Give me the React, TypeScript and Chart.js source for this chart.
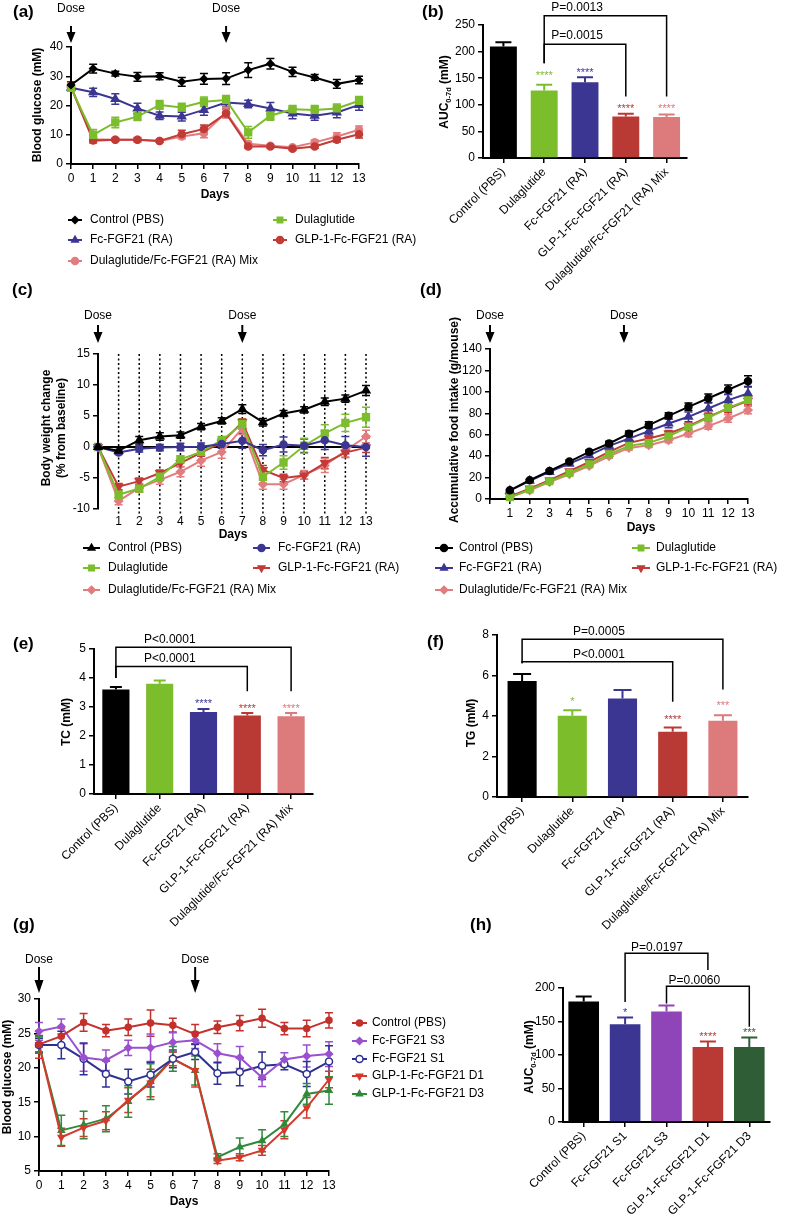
import React, { useEffect, useRef } from 'react';
import { Chart, registerables } from 'chart.js';
import { drawPoint } from 'chart.js/helpers';

Chart.register(...registerables);

const FONT = "'Liberation Sans', Arial, Helvetica, sans-serif";
const W = 785;
const H = 1217;
const WY = 35;
const HX_BAR = 170;

// ---------------- DATA ----------------
const daysAll = [0, 1, 2, 3, 4, 5, 6, 7, 8, 9, 10, 11, 12, 13];
const days1to13 = [1, 2, 3, 4, 5, 6, 7, 8, 9, 10, 11, 12, 13];
const doseDays = [0, 7];
const doseDaysD = [0, 6.75];

// (a) blood glucose
const aControl = [27.0, 32.6, 30.9, 29.8, 30.0, 28.1, 29.1, 29.2, 32.1, 34.3, 31.5, 29.6, 27.4, 28.7];
const aControlErr = [1.0, 1.5, 0.8, 1.5, 1.2, 1.5, 1.8, 2.0, 2.5, 1.8, 1.6, 1.0, 1.5, 1.3];
const aDula = [26.0, 10.0, 14.2, 16.2, 20.2, 19.3, 21.3, 21.9, 10.8, 16.5, 18.7, 18.5, 19.0, 21.6];
const aDulaErr = [1.0, 1.8, 1.8, 1.3, 1.5, 1.5, 1.6, 1.5, 2.0, 1.5, 1.3, 1.5, 1.5, 1.5];
const aFc = [26.1, 24.5, 22.2, 19.0, 16.5, 16.2, 18.5, 21.0, 20.5, 19.0, 17.3, 16.5, 17.6, 20.2];
const aFcErr = [1.0, 1.4, 1.8, 1.8, 1.3, 1.5, 1.8, 1.5, 1.3, 2.0, 1.8, 1.5, 1.8, 1.8];
const aGlp = [26.3, 8.0, 8.3, 8.3, 7.9, 10.2, 12.0, 17.3, 6.0, 6.0, 5.2, 6.0, 8.3, 10.2];
const aGlpErr = [1.0, 0.8, 0.5, 0.6, 0.5, 1.3, 1.3, 1.5, 0.6, 0.5, 0.5, 0.6, 0.8, 1.3];
const aMix = [26.5, 8.5, 8.3, 8.3, 7.9, 9.4, 10.5, 17.6, 6.9, 6.2, 5.7, 7.4, 9.4, 11.7];
const aMixErr = [1.2, 0.8, 0.5, 0.8, 0.5, 0.8, 1.5, 1.8, 0.8, 0.5, 0.4, 0.8, 1.3, 1.3];

// (b) AUC 0-7d
const groups5 = ['Control (PBS)', 'Dulaglutide', 'Fc-FGF21 (RA)', 'GLP-1-Fc-FGF21 (RA)', 'Dulaglutide/Fc-FGF21 (RA) Mix'];
const bAuc = [209.5, 127, 142.5, 78, 77];
const bAucErr = [8, 10.5, 9.5, 5, 5];
const bStars = ['', '****', '****', '****', '****'];
const bStarY = [0, 160.5, 165.5, 97, 97];
const bBrackets = [
  [1, 3, 178, 214, 115.6, 'P=0.0015'],
  [1, 4, 178, 267.5, 115.6, 'P=0.0013'],
];

// (c) body weight change
const cControl = [0, -0.6, 1.1, 1.7, 1.9, 3.3, 4.2, 6.1, 4.0, 5.4, 6.0, 7.3, 7.8, 9.1];
const cControlErr = [0, 0.5, 0.6, 0.6, 0.5, 0.5, 0.5, 0.7, 0.6, 0.5, 0.5, 0.6, 0.6, 0.8];
const cFc = [0, -0.9, -0.3, -0.1, 0, 0.05, 0.5, 1.0, -0.5, 0.4, 0.2, 1.1, 0.3, 0];
const cFcErr = [0, 0.3, 0.5, 0.5, 0.6, 0.6, 0.7, 1.2, 0.9, 1.2, 1.1, 1.5, 1.4, 1.5];
const cDula = [0, -7.7, -6.7, -4.8, -2.0, -0.8, 1.1, 3.7, -4.8, -2.5, 0.2, 2.2, 3.9, 4.8];
const cDulaErr = [0, 0.6, 0.5, 0.5, 0.6, 0.6, 0.6, 0.8, 1.0, 1.1, 1.2, 1.4, 1.4, 1.6];
const cGlp = [0, -6.4, -5.5, -4.2, -2.6, -0.9, 0.7, 4.0, -3.7, -5.0, -4.6, -2.6, -0.9, -0.1];
const cGlpErr = [0, 0.5, 0.5, 0.5, 0.6, 0.6, 0.6, 0.5, 0.7, 0.6, 0.6, 0.9, 0.8, 0.8];
const cMix = [0, -8.7, -6.6, -5.3, -4.0, -2.2, -0.8, 3.0, -6.0, -6.0, -4.5, -3.0, -0.6, 1.7];
const cMixErr = [0, 0.6, 0.7, 0.7, 0.8, 0.9, 1.0, 1.0, 0.8, 0.8, 0.7, 1.1, 1.0, 1.0];

// (d) accumulative food intake
const dControl = [8.1, 17.5, 26.2, 34.9, 44.0, 51.8, 61.0, 69.0, 77.6, 86.0, 94.0, 102.0, 110.0];
const dControlErr = [0.8, 1.0, 1.2, 1.5, 1.8, 2.0, 2.5, 3.0, 3.0, 3.5, 4.0, 4.5, 5.0];
const dFc = [7.8, 17.0, 25.3, 33.0, 40.8, 49.6, 56.4, 63.3, 70.5, 76.7, 84.5, 92.3, 98.5];
const dFcErr = [0.8, 1.0, 1.2, 1.5, 2.0, 2.0, 3.0, 3.5, 4.0, 4.5, 5.0, 5.5, 6.0];
const dDula = [1.5, 8.7, 16.5, 24.3, 32.4, 41.8, 49.6, 52.4, 58.6, 67.3, 75.8, 85.0, 92.3];
const dDulaErr = [0.5, 0.8, 1.0, 1.2, 1.5, 1.8, 2.0, 2.2, 2.5, 3.0, 3.0, 3.5, 3.5];
const dGlp = [2.5, 9.7, 17.5, 25.9, 34.6, 44.0, 52.4, 56.4, 61.1, 68.0, 76.7, 84.5, 91.7];
const dGlpErr = [0.5, 0.8, 1.0, 1.2, 1.5, 1.8, 2.0, 2.5, 2.8, 3.0, 3.5, 4.0, 4.0];
const dMix = [1.9, 8.1, 15.9, 23.1, 30.9, 39.9, 47.7, 50.2, 54.9, 61.1, 68.0, 75.1, 83.0];
const dMixErr = [0.5, 0.8, 1.0, 1.2, 1.5, 1.8, 2.0, 2.2, 2.5, 3.0, 3.0, 3.5, 3.5];

// (e) TC
const eTc = [3.60, 3.80, 2.83, 2.71, 2.68];
const eTcErr = [0.09, 0.11, 0.10, 0.08, 0.11];
const eStars = ['', '', '****', '****', '****'];
const eStarY = [0, 0, 3.2, 3.05, 3.02];
const eBrackets = [
  [0, 3, 4.0, 4.4, 3.54, 'P<0.0001'],
  [0, 4, 4.0, 5.06, 3.54, 'P<0.0001'],
];

// (f) TG
const fTg = [5.73, 4.01, 4.87, 3.22, 3.76];
const fTgErr = [0.34, 0.28, 0.41, 0.21, 0.28];
const fStars = ['', '*', '', '****', '***'];
const fStarY = [0, 4.82, 0, 3.96, 4.62];
const fBrackets = [
  [0, 3, 6.6, 6.68, 4.7, 'P<0.0001'],
  [0, 4, 6.6, 7.79, 5.31, 'P=0.0005'],
];

// (g) blood glucose, dose study
const gControl = [23.4, 24.6, 26.6, 25.4, 25.9, 26.5, 26.2, 24.9, 25.9, 26.5, 27.2, 25.7, 25.7, 26.9];
const gControlErr = [1.3, 1.2, 1.3, 0.9, 1.2, 1.9, 1.0, 1.4, 0.9, 1.1, 1.3, 0.9, 1.2, 1.1];
const gS3 = [25.3, 26.0, 21.5, 21.1, 22.9, 22.9, 23.7, 24.0, 22.1, 21.5, 18.6, 21.2, 21.7, 22.0];
const gS3Err = [1.3, 1.1, 2.0, 1.5, 1.1, 2.0, 1.4, 1.2, 1.4, 1.6, 1.3, 1.0, 1.6, 1.8];
const gS1 = [23.3, 23.3, 21.3, 19.1, 18.0, 19.0, 21.3, 22.3, 19.2, 19.4, 20.3, 20.5, 19.1, 20.9];
const gS1Err = [1.0, 2.0, 2.3, 1.9, 1.8, 1.8, 1.3, 1.1, 1.6, 2.0, 2.0, 0.8, 1.8, 2.3];
const gD1 = [23.4, 9.9, 11.3, 12.3, 15.3, 17.8, 21.3, 19.6, 6.5, 7.0, 8.0, 11.0, 14.2, 18.3];
const gD1Err = [2.0, 1.3, 1.3, 1.3, 1.8, 2.0, 1.0, 2.4, 0.4, 0.5, 0.7, 1.3, 1.5, 1.2];
const gD3 = [23.3, 10.9, 11.7, 12.6, 15.1, 18.0, 21.3, 19.6, 7.0, 8.5, 9.4, 11.8, 16.2, 16.7];
const gD3Err = [1.2, 2.2, 2.0, 1.9, 2.3, 2.6, 1.8, 2.1, 0.5, 1.3, 1.6, 1.8, 1.5, 2.0];

// (h) AUC 0-7d, dose study
const groupsH = ['Control (PBS)', 'Fc-FGF21 S1', 'Fc-FGF21 S3', 'GLP-1-Fc-FGF21 D1', 'GLP-1-Fc-FGF21 D3'];
const hAuc = [180, 146, 165, 112, 112];
const hAucErr = [7.5, 10, 9, 8, 14];
const hStars = ['', '*', '', '****', '***'];
const hStarY = [0, 167, 0, 131, 138];
const hBrackets = [
  [1, 3, 179, 252, 227, 'P=0.0197'],
  [2, 4, 176.7, 202.5, 142, 'P=0.0060'],
];

// ---------------- COLOURS ----------------
const C = {
  black: '#000000',
  green: '#7cbd2c',
  blue: '#3c3693',
  red: '#c23b36',
  pink: '#e27d7f',
  barRed: '#b93a35',
  barPink: '#dc7a7c',
  gRed: '#c4302b',
  gPurple: '#9a50cf',
  gNavy: '#2e3192',
  gD1: '#d6392c',
  gD3: '#2f8a3b',
  hPurple: '#8f45b8',
  hGreen: '#2f5d36',
};

// ---------------- HELPERS ----------------
const F = (size: number, bold = false) => `${bold ? 'bold ' : ''}${size}px ${FONT}`;

function txt(ctx: CanvasRenderingContext2D, s: string, x: number, y: number, font: string, color = '#000',
  align: CanvasTextAlign = 'left', baseline: CanvasTextBaseline = 'alphabetic') {
  ctx.save();
  ctx.font = font;
  ctx.fillStyle = color;
  ctx.textAlign = align;
  ctx.textBaseline = baseline;
  ctx.fillText(s, x, y);
  ctx.restore();
}

// vertical (rotated -90deg) text made of parts [text, font, dy]
function vtxt(ctx: CanvasRenderingContext2D, parts: [string, string, number][], cx: number, cy: number) {
  ctx.save();
  ctx.translate(cx, cy);
  ctx.rotate(-Math.PI / 2);
  ctx.fillStyle = '#000';
  ctx.textBaseline = 'middle';
  ctx.textAlign = 'left';
  let total = 0;
  const ws = parts.map(([s, f]) => { ctx.font = f; const w = ctx.measureText(s).width; total += w; return w; });
  let x = -total / 2;
  parts.forEach(([s, f, dy], i) => { ctx.font = f; ctx.fillText(s, x, dy); x += ws[i]; });
  ctx.restore();
}

function dose(ctx: CanvasRenderingContext2D, x: number, ty: number, y0: number, y1: number, head: number) {
  txt(ctx, 'Dose', x, ty, F(12), '#000', 'center');
  ctx.save();
  ctx.strokeStyle = '#000';
  ctx.fillStyle = '#000';
  ctx.lineWidth = 2;
  ctx.beginPath();
  ctx.moveTo(x, y0);
  ctx.lineTo(x, y1 - head + 2);
  ctx.stroke();
  ctx.beginPath();
  ctx.moveTo(x - 4.5, y1 - head);
  ctx.lineTo(x + 4.5, y1 - head);
  ctx.lineTo(x, y1);
  ctx.closePath();
  ctx.fill();
  ctx.restore();
}

function legend(ctx: CanvasRenderingContext2D, chart: any, items: [number, number, number][], lineLen: number, gap: number) {
  items.forEach(([i, x, y]) => {
    const ds = chart.data.datasets[i];
    ctx.save();
    ctx.strokeStyle = ds.borderColor;
    ctx.lineWidth = 2;
    ctx.beginPath();
    ctx.moveTo(x, y);
    ctx.lineTo(x + lineLen, y);
    ctx.stroke();
    ctx.fillStyle = ds.pointBackgroundColor;
    ctx.strokeStyle = ds.borderColor;
    ctx.lineWidth = 1.5;
    drawPoint(ctx, { pointStyle: ds.pointStyle, radius: Math.min(ds.pointRadius, 3.8), rotation: ds.pointRotation || 0, borderWidth: 1.5 } as any, x + lineLen / 2, y);
    ctx.restore();
    txt(ctx, ds.label, x + lineLen + gap, y, F(12), '#000', 'left', 'middle');
  });
}

function lineErrors(chart: any, cap: number) {
  const ctx = chart.ctx;
  const ys = chart.scales.y;
  chart.data.datasets.forEach((ds: any, i: number) => {
    if (!ds.err) return;
    const meta = chart.getDatasetMeta(i);
    ctx.save();
    ctx.strokeStyle = ds.borderColor;
    ctx.lineWidth = 1.5;
    meta.data.forEach((pt: any, j: number) => {
      const v = ds.data[j].y;
      const e = ds.err[j];
      if (!e) return;
      const t = ys.getPixelForValue(v + e);
      const b = ys.getPixelForValue(v - e);
      ctx.beginPath();
      ctx.moveTo(pt.x, t); ctx.lineTo(pt.x, b);
      ctx.moveTo(pt.x - cap, t); ctx.lineTo(pt.x + cap, t);
      ctx.moveTo(pt.x - cap, b); ctx.lineTo(pt.x + cap, b);
      ctx.stroke();
    });
    ctx.restore();
  });
}

function barErrors(chart: any, cap: number) {
  const ctx = chart.ctx;
  const ys = chart.scales.y;
  const ds = chart.data.datasets[0];
  const meta = chart.getDatasetMeta(0);
  meta.data.forEach((bar: any, j: number) => {
    const t = ys.getPixelForValue(ds.data[j] + ds.err[j]);
    ctx.save();
    ctx.strokeStyle = ds.backgroundColor[j];
    ctx.lineWidth = 2;
    ctx.beginPath();
    ctx.moveTo(bar.x, bar.y); ctx.lineTo(bar.x, t);
    ctx.moveTo(bar.x - cap, t); ctx.lineTo(bar.x + cap, t);
    ctx.stroke();
    ctx.restore();
  });
}

function stars(chart: any, list: string[], ys: number[], colors: string[]) {
  const ctx = chart.ctx;
  list.forEach((s, i) => {
    if (!s) return;
    const x = chart.scales.x.getPixelForValue(i);
    const y = chart.scales.y.getPixelForValue(ys[i]);
    txt(ctx, s, x, y + 6, F(11), colors[i], 'center');
  });
}

function brackets(chart: any, list: any[], style: [number, number][]) {
  const ctx = chart.ctx;
  const xs = chart.scales.x;
  const ys = chart.scales.y;
  list.forEach((b, k) => {
    const [a, bb, yl, yt, yr, label] = b;
    const xa = xs.getPixelForValue(a);
    const xb = xs.getPixelForValue(bb);
    const pl = ys.getPixelForValue(yl);
    const pt = ys.getPixelForValue(yt);
    const pr = ys.getPixelForValue(yr);
    ctx.save();
    ctx.strokeStyle = '#000';
    ctx.lineWidth = 1.5;
    ctx.beginPath();
    ctx.moveTo(xa, pl); ctx.lineTo(xa, pt); ctx.lineTo(xb, pt); ctx.lineTo(xb, pr);
    ctx.stroke();
    ctx.restore();
    txt(ctx, label, xa + style[k][0], pt - style[k][1], F(12));
  });
}

const fixSize = (w?: number, h?: number) => (s: any) => {
  if (w !== undefined) s.width = w;
  if (h !== undefined) s.height = h;
  s.paddingLeft = 0; s.paddingRight = 0; s.paddingTop = 0; s.paddingBottom = 0;
};

function yAxis(min: number, max: number, step: number) {
  return {
    type: 'linear', position: 'left', min, max,
    ticks: { stepSize: step, color: '#000', font: { family: FONT, size: 12 }, padding: 3 },
    grid: { display: true, drawOnChartArea: false, drawTicks: true, tickLength: 5, color: '#000', lineWidth: 1.5 },
    border: { display: true, color: '#000', width: 2 },
    afterFit: fixSize(WY, undefined),
  };
}

function xDays(hideZero: boolean, showAxis: boolean) {
  return {
    type: 'linear', position: 'bottom', min: 0, max: 13,
    ticks: {
      stepSize: 1, autoSkip: false, maxRotation: 0, minRotation: 0, color: '#000',
      font: { family: FONT, size: 12 }, padding: showAxis ? 2 : 5,
      callback: (v: any) => (hideZero && v === 0 ? '' : String(v)),
    },
    grid: { display: showAxis, drawOnChartArea: false, drawTicks: showAxis, tickLength: 5, color: '#000', lineWidth: 1.5 },
    border: { display: showAxis, color: '#000', width: 2 },
    afterFit: fixSize(undefined, 30),
  };
}

function xCat() {
  return {
    type: 'category', position: 'bottom', offset: true,
    ticks: { autoSkip: false, minRotation: 45, maxRotation: 45, color: '#000', font: { family: FONT, size: 12 }, padding: 2 },
    grid: { display: true, offset: false, drawOnChartArea: false, drawTicks: true, tickLength: 5, color: '#000', lineWidth: 1.5 },
    border: { display: true, color: '#000', width: 2 },
    afterFit: fixSize(undefined, HX_BAR),
  };
}

function series(label: string, xs: number[], ys: number[], err: number[], color: string, style: string,
  radius: number, rotation = 0, fill?: string) {
  return {
    label,
    data: xs.map((x, i) => ({ x, y: ys[i] })),
    err,
    borderColor: color,
    backgroundColor: color,
    borderWidth: 2,
    pointStyle: style,
    pointRadius: radius,
    pointRotation: rotation,
    pointBackgroundColor: fill ?? color,
    pointBorderColor: color,
    pointBorderWidth: 1.5,
    tension: 0,
    clip: false,
  };
}

type Area = { L: number; T: number; R: number; B: number };

function baseConfig(type: string, data: any, area: Area, hx: number, scales: any, plugin: any) {
  return {
    type,
    data,
    options: {
      responsive: false,
      animation: false,
      devicePixelRatio: 1,
      events: [],
      layout: { padding: { left: area.L - WY, top: area.T, right: W - area.R, bottom: H - area.B - hx } },
      plugins: { legend: { display: false }, tooltip: { enabled: false }, title: { display: false } },
      scales,
    },
    plugins: [plugin],
  };
}

function barConfig(labels: string[], values: number[], err: number[], colors: string[], area: Area,
  yMin: number, yMax: number, yStep: number, barPct: number, cap: number, draw: (chart: any) => void) {
  const data = {
    labels,
    datasets: [{ data: values, err, backgroundColor: colors, borderWidth: 0, barPercentage: barPct, categoryPercentage: 1 }],
  };
  const plugin = {
    id: 'extrasBar',
    afterDatasetsDraw(chart: any) {
      barErrors(chart, cap);
      draw(chart);
    },
  };
  return baseConfig('bar', data, area, HX_BAR, { x: xCat(), y: yAxis(yMin, yMax, yStep) }, plugin);
}

// ---------------- PANELS ----------------
function makeA() {
  const area = { L: 71, T: 47, R: 359, B: 164 };
  const datasets = [
    series('Control (PBS)', daysAll, aControl, aControlErr, C.black, 'rectRot', 3.5),
    series('Dulaglutide', daysAll, aDula, aDulaErr, C.green, 'rect', 4.8),
    series('Fc-FGF21 (RA)', daysAll, aFc, aFcErr, C.blue, 'triangle', 4.5),
    series('GLP-1-Fc-FGF21 (RA)', daysAll, aGlp, aGlpErr, C.red, 'circle', 3.5),
    series('Dulaglutide/Fc-FGF21 (RA) Mix', daysAll, aMix, aMixErr, C.pink, 'circle', 3.5),
  ];
  const plugin = {
    id: 'extrasA',
    beforeDatasetsDraw(chart: any) { lineErrors(chart, 4); },
    afterDatasetsDraw(chart: any) {
      const ctx = chart.ctx;
      txt(ctx, '(a)', 13, 17, F(17, true));
      doseDays.forEach((d) => dose(ctx, chart.scales.x.getPixelForValue(d), 12, 26, 43, 11));
      vtxt(ctx, [['Blood glucose (mM)', F(12, true), 0]], 38, 105);
      txt(ctx, 'Days', 215, 198, F(12, true), '#000', 'center');
      legend(ctx, chart, [[0, 68, 220], [1, 273, 220], [2, 68, 240], [3, 273, 240], [4, 68, 261]], 14, 8);
    },
  };
  return baseConfig('line', { datasets }, area, 30, { x: xDays(false, true), y: yAxis(0, 40, 10) }, plugin);
}

function makeB() {
  const area = { L: 483, T: 25, R: 687, B: 158 };
  const colors = [C.black, C.green, C.blue, C.barRed, C.barPink];
  return barConfig(groups5, bAuc, bAucErr, colors, area, 0, 250, 50, 0.66, 8, (chart) => {
    const ctx = chart.ctx;
    stars(chart, bStars, bStarY, colors);
    brackets(chart, bBrackets, [[7, 5], [7, 5]]);
    txt(ctx, '(b)', 422, 17, F(17, true));
    vtxt(ctx, [['AUC', F(12, true), 0], ['0-7d', F(7.5, true), 3.5], [' (mM)', F(12, true), 0]], 445, 92);
  });
}

function makeC() {
  const area = { L: 98, T: 354, R: 366, B: 509 };
  const datasets = [
    series('Control (PBS)', daysAll, cControl, cControlErr, C.black, 'triangle', 4.5),
    series('Fc-FGF21 (RA)', daysAll, cFc, cFcErr, C.blue, 'circle', 3.5),
    series('Dulaglutide', daysAll, cDula, cDulaErr, C.green, 'rect', 4.8),
    series('GLP-1-Fc-FGF21 (RA)', daysAll, cGlp, cGlpErr, C.red, 'triangle', 4.5, 180),
    series('Dulaglutide/Fc-FGF21 (RA) Mix', daysAll, cMix, cMixErr, C.pink, 'rectRot', 4),
  ];
  const plugin = {
    id: 'extrasC',
    beforeDatasetsDraw(chart: any) {
      const ctx = chart.ctx;
      const { top, bottom, left, right } = chart.chartArea;
      ctx.save();
      ctx.strokeStyle = '#000';
      ctx.lineWidth = 1.5;
      ctx.setLineDash([2, 2.5]);
      days1to13.forEach((d) => {
        const x = chart.scales.x.getPixelForValue(d);
        ctx.beginPath(); ctx.moveTo(x, top); ctx.lineTo(x, bottom + 5); ctx.stroke();
      });
      ctx.setLineDash([]);
      ctx.lineWidth = 2;
      const y0 = chart.scales.y.getPixelForValue(0);
      ctx.beginPath(); ctx.moveTo(left, y0); ctx.lineTo(right, y0); ctx.stroke();
      ctx.restore();
      lineErrors(chart, 4);
    },
    afterDatasetsDraw(chart: any) {
      const ctx = chart.ctx;
      txt(ctx, '(c)', 12, 295, F(17, true));
      doseDays.forEach((d) => dose(ctx, chart.scales.x.getPixelForValue(d), 319, 325, 343, 11));
      vtxt(ctx, [['Body weight change', F(12, true), 0]], 47, 428);
      vtxt(ctx, [['(% from baseline)', F(12, true), 0]], 62, 428);
      txt(ctx, 'Days', 233, 538, F(12, true), '#000', 'center');
      legend(ctx, chart, [[0, 83, 548], [1, 253, 548], [2, 83, 568], [3, 253, 568], [4, 83, 590]], 17, 8);
    },
  };
  return baseConfig('line', { datasets }, area, 30, { x: xDays(true, false), y: yAxis(-10, 15, 5) }, plugin);
}

function makeD() {
  const area = { L: 490, T: 349, R: 748, B: 499 };
  const datasets = [
    series('Control (PBS)', days1to13, dControl, dControlErr, C.black, 'circle', 3.5),
    series('Dulaglutide', days1to13, dDula, dDulaErr, C.green, 'rect', 4.5),
    series('Fc-FGF21 (RA)', days1to13, dFc, dFcErr, C.blue, 'triangle', 4.5),
    series('GLP-1-Fc-FGF21 (RA)', days1to13, dGlp, dGlpErr, C.red, 'triangle', 4.5, 180),
    series('Dulaglutide/Fc-FGF21 (RA) Mix', days1to13, dMix, dMixErr, C.pink, 'rectRot', 4),
  ];
  const plugin = {
    id: 'extrasD',
    beforeDatasetsDraw(chart: any) { lineErrors(chart, 4); },
    afterDatasetsDraw(chart: any) {
      const ctx = chart.ctx;
      txt(ctx, '(d)', 420, 295, F(17, true));
      doseDaysD.forEach((d) => dose(ctx, chart.scales.x.getPixelForValue(d), 319, 325, 343, 11));
      vtxt(ctx, [['Accumulative food intake (g/mouse)', F(12, true), 0]], 455, 420);
      txt(ctx, 'Days', 641, 531, F(12, true), '#000', 'center');
      legend(ctx, chart, [[0, 435, 548], [1, 632, 548], [2, 435, 568], [3, 632, 568], [4, 435, 590]], 18, 6);
    },
  };
  return baseConfig('line', { datasets }, area, 30, { x: xDays(true, true), y: yAxis(0, 140, 20) }, plugin);
}

function makeE() {
  const area = { L: 94, T: 649, R: 313, B: 794 };
  const colors = [C.black, C.green, C.blue, C.barRed, C.barPink];
  return barConfig(groups5, eTc, eTcErr, colors, area, 0, 5, 1, 0.62, 6, (chart) => {
    const ctx = chart.ctx;
    stars(chart, eStars, eStarY, colors);
    brackets(chart, eBrackets, [[28, 4], [28, 4]]);
    txt(ctx, '(e)', 13, 649, F(17, true));
    vtxt(ctx, [['TC (mM)', F(12, true), 0]], 67, 722);
  });
}

function makeF() {
  const area = { L: 497, T: 635, R: 748, B: 797 };
  const colors = [C.black, C.green, C.blue, C.barRed, C.barPink];
  return barConfig(groups5, fTg, fTgErr, colors, area, 0, 8, 2, 0.58, 9, (chart) => {
    const ctx = chart.ctx;
    stars(chart, fStars, fStarY, colors);
    brackets(chart, fBrackets, [[51, 4], [51, 4]]);
    txt(ctx, '(f)', 427, 647, F(17, true));
    vtxt(ctx, [['TG (mM)', F(12, true), 0]], 472, 723);
  });
}

function makeG() {
  const area = { L: 39, T: 999, R: 329, B: 1171 };
  const datasets = [
    series('Control (PBS)', daysAll, gControl, gControlErr, C.gRed, 'circle', 3),
    series('Fc-FGF21 S3', daysAll, gS3, gS3Err, C.gPurple, 'rectRot', 3.5),
    series('Fc-FGF21 S1', daysAll, gS1, gS1Err, C.gNavy, 'circle', 3.5, 0, '#ffffff'),
    series('GLP-1-Fc-FGF21 D1', daysAll, gD1, gD1Err, C.gD1, 'triangle', 3.5, 180),
    series('GLP-1-Fc-FGF21 D3', daysAll, gD3, gD3Err, C.gD3, 'triangle', 3.5),
  ];
  const plugin = {
    id: 'extrasG',
    beforeDatasetsDraw(chart: any) { lineErrors(chart, 4); },
    afterDatasetsDraw(chart: any) {
      const ctx = chart.ctx;
      txt(ctx, '(g)', 13, 930, F(17, true));
      txt(ctx, '(h)', 470, 930, F(17, true));
      doseDays.forEach((d) => dose(ctx, chart.scales.x.getPixelForValue(d), 963, 967, 993, 13));
      vtxt(ctx, [['Blood glucose (mM)', F(12, true), 0]], 8, 1077);
      txt(ctx, 'Days', 184, 1205, F(12, true), '#000', 'center');
      legend(ctx, chart, [[0, 352, 1023], [1, 352, 1041], [2, 352, 1059], [3, 352, 1076], [4, 352, 1094]], 15, 5);
    },
  };
  return baseConfig('line', { datasets }, area, 30, { x: xDays(false, true), y: yAxis(5, 30, 5) }, plugin);
}

function makeH() {
  const area = { L: 563, T: 988, R: 770, B: 1122 };
  const colors = [C.black, C.blue, C.hPurple, C.barRed, C.hGreen];
  return barConfig(groupsH, hAuc, hAucErr, colors, area, 0, 200, 50, 0.74, 8, (chart) => {
    const ctx = chart.ctx;
    stars(chart, hStars, hStarY, colors);
    brackets(chart, hBrackets, [[6, 2.5], [2, 2.5]]);
    vtxt(ctx, [['AUC', F(12, true), 0], ['0-7d', F(7.5, true), 3.5], [' (mM)', F(12, true), 0]], 530, 1057);
  });
}

const MAKERS = [makeA, makeB, makeC, makeD, makeE, makeF, makeG, makeH];

function ChartCanvas({ make }: { make: () => any }) {
  const ref = useRef<HTMLCanvasElement>(null);
  useEffect(() => {
    const chart = new Chart(ref.current as HTMLCanvasElement, make());
    return () => chart.destroy();
  }, [make]);
  return (
    <canvas
      ref={ref}
      width={W}
      height={H}
      style={{ position: 'absolute', left: 0, top: 0, width: W, height: H }}
    />
  );
}

export default function App() {
  return (
    <div style={{ position: 'absolute', left: 0, top: 0, width: W, height: H, background: '#fff', overflow: 'hidden' }}>
      {MAKERS.map((mk, i) => (
        <ChartCanvas key={i} make={mk} />
      ))}
    </div>
  );
}
